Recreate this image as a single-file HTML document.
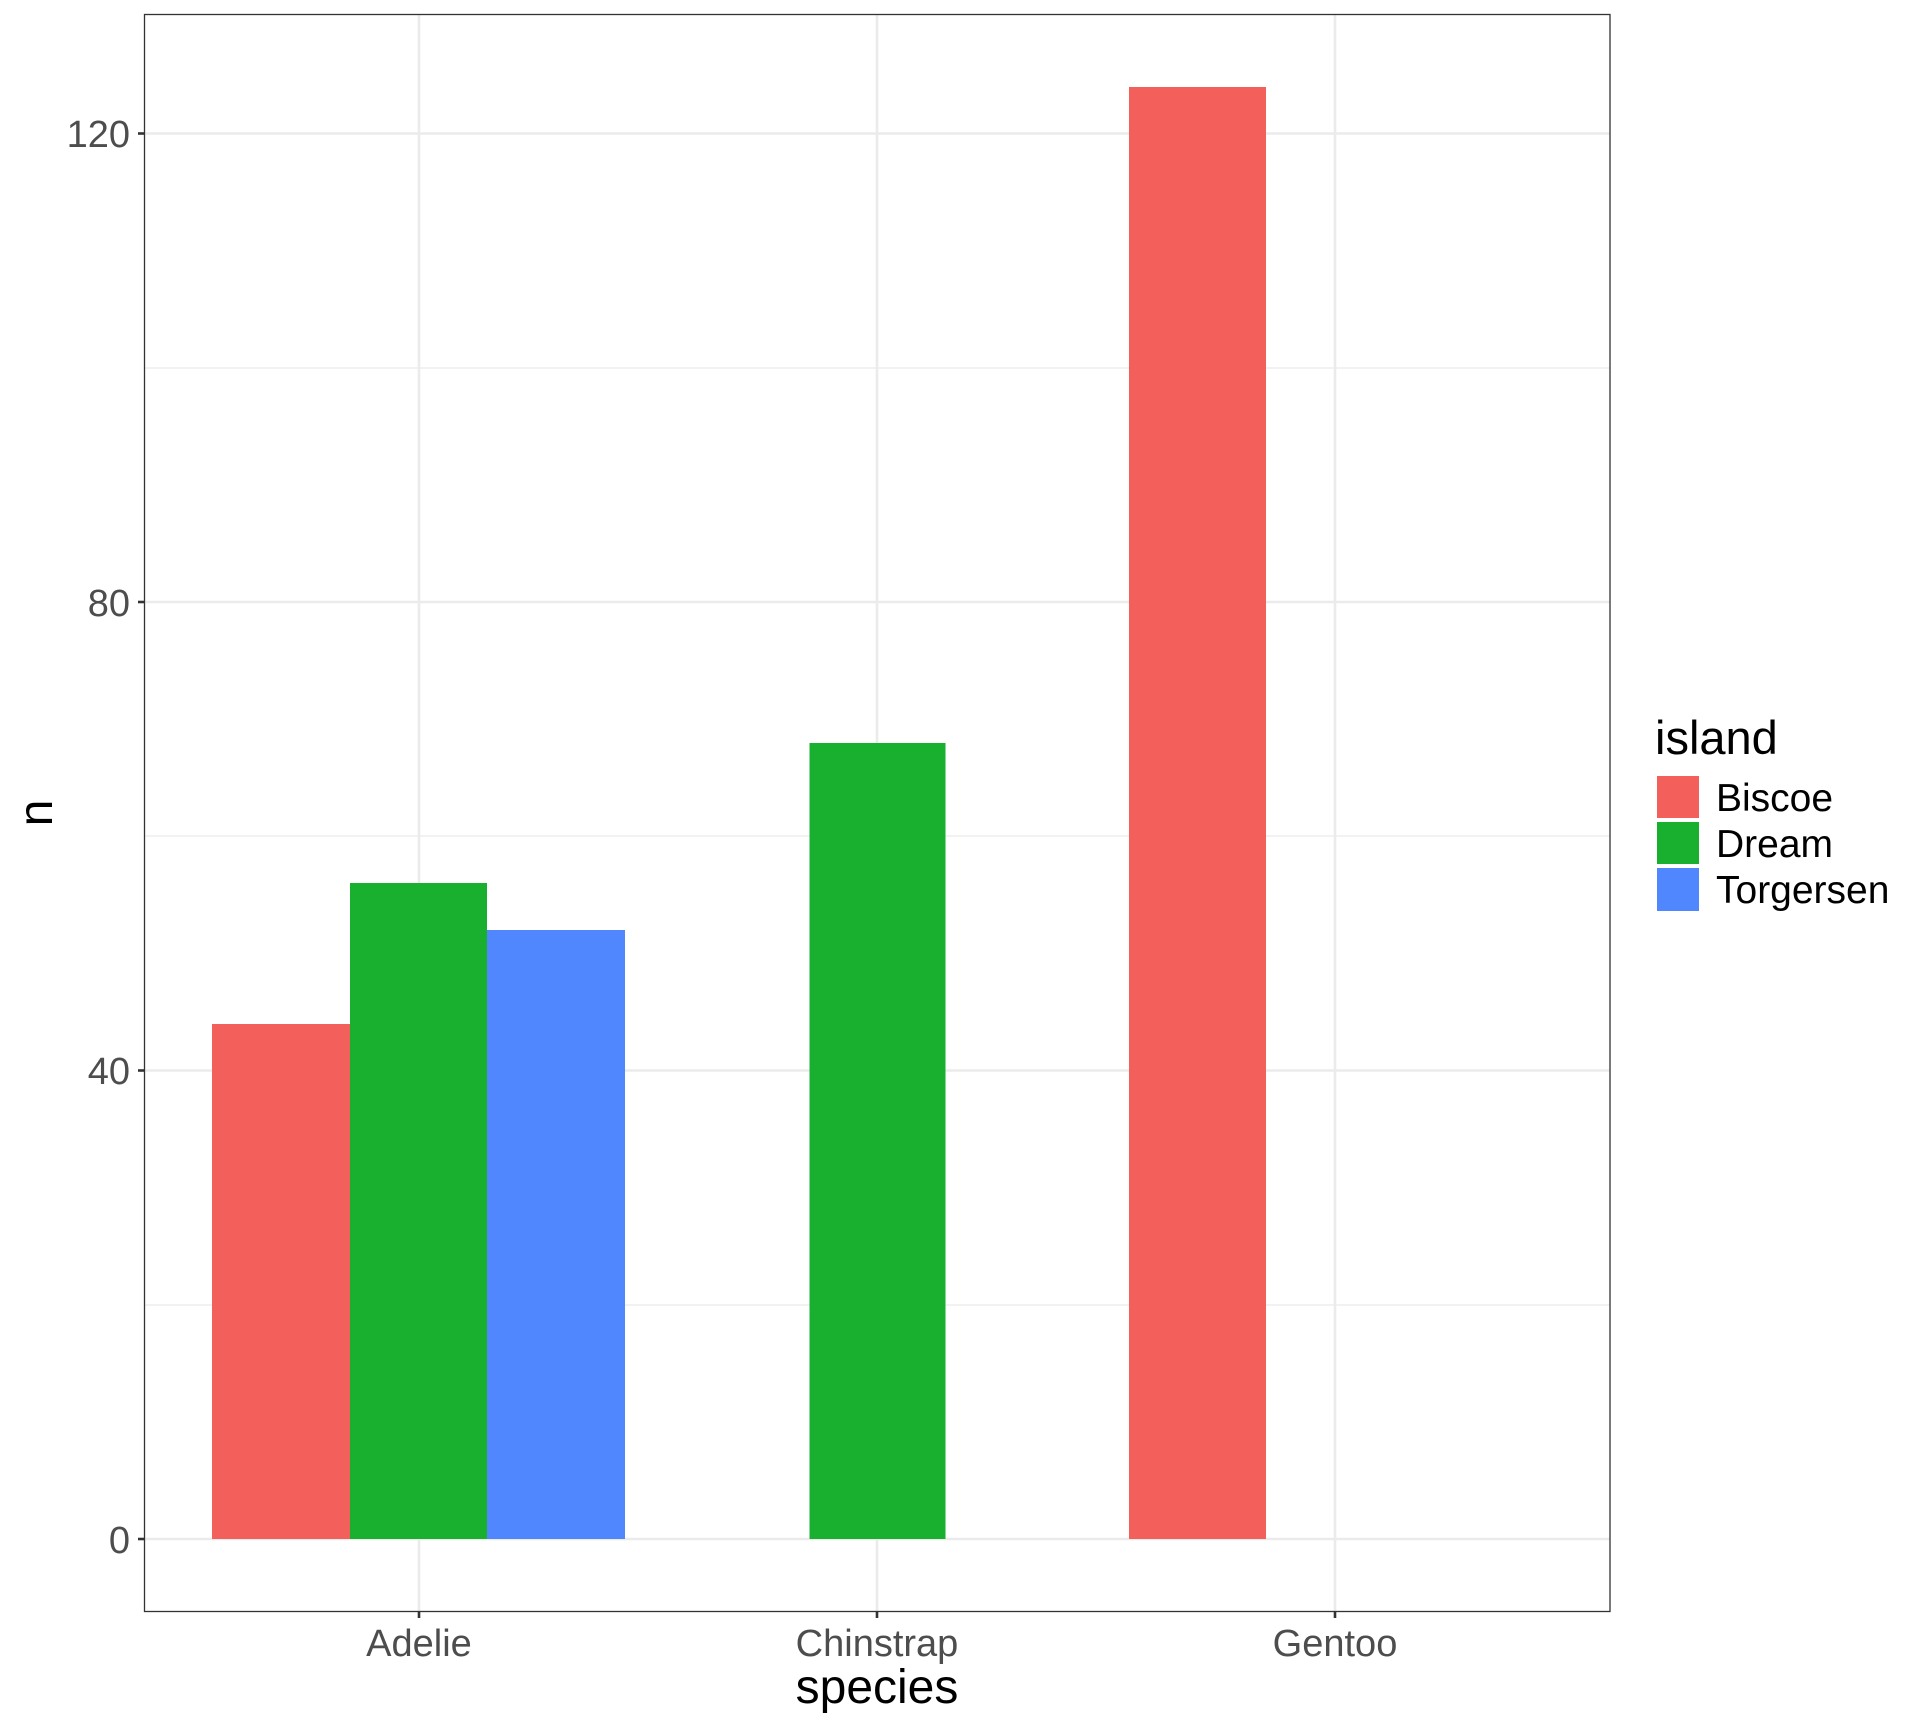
<!DOCTYPE html>
<html><head><style>html,body{margin:0;padding:0;background:#fff}</style></head>
<body>
<svg width="1920" height="1728" xmlns="http://www.w3.org/2000/svg" font-family="Liberation Sans, sans-serif">
<rect width="1920" height="1728" fill="#fff"/>
<g stroke="#ebebeb" stroke-width="1.3">
<line x1="144.5" x2="1610" y1="1305" y2="1305"/>
<line x1="144.5" x2="1610" y1="836" y2="836"/>
<line x1="144.5" x2="1610" y1="368" y2="368"/>
</g>
<g stroke="#ebebeb" stroke-width="2.6">
<line x1="144.5" x2="1610" y1="1539" y2="1539"/>
<line x1="144.5" x2="1610" y1="1070.5" y2="1070.5"/>
<line x1="144.5" x2="1610" y1="602" y2="602"/>
<line x1="144.5" x2="1610" y1="133.5" y2="133.5"/>
<line x1="419" x2="419" y1="14.5" y2="1611.5"/>
<line x1="877" x2="877" y1="14.5" y2="1611.5"/>
<line x1="1335" x2="1335" y1="14.5" y2="1611.5"/>
</g>
<rect x="212" y="1024" width="138" height="515" fill="#F35F5A"/>
<rect x="350" y="883" width="137" height="656" fill="#19AF2F"/>
<rect x="487" y="930" width="138" height="609" fill="#5087FF"/>
<rect x="809.5" y="743" width="136" height="796" fill="#19AF2F"/>
<rect x="1129" y="87" width="137" height="1452" fill="#F35F5A"/>
<rect x="144.5" y="14.5" width="1465.5" height="1597" fill="none" stroke="#333" stroke-width="1.3"/>
<g stroke="#333" stroke-width="2.6">
<line x1="138" x2="144.5" y1="1539" y2="1539"/>
<line x1="138" x2="144.5" y1="1070.5" y2="1070.5"/>
<line x1="138" x2="144.5" y1="602" y2="602"/>
<line x1="138" x2="144.5" y1="133.5" y2="133.5"/>
<line x1="419" x2="419" y1="1611.5" y2="1618"/>
<line x1="877" x2="877" y1="1611.5" y2="1618"/>
<line x1="1335" x2="1335" y1="1611.5" y2="1618"/>
</g>
<g fill="#4d4d4d" font-size="38" text-anchor="end">
<text x="130" y="1553">0</text>
<text x="130" y="1084">40</text>
<text x="130" y="616">80</text>
<text x="130" y="147">120</text>
</g>
<g fill="#4d4d4d" font-size="38" text-anchor="middle">
<text x="419" y="1656">Adelie</text>
<text x="877" y="1656">Chinstrap</text>
<text x="1335" y="1656">Gentoo</text>
</g>
<text x="877" y="1703" font-size="48" text-anchor="middle" fill="#000">species</text>
<text transform="translate(52,813) rotate(-90)" font-size="48" text-anchor="middle" fill="#000">n</text>
<text x="1655" y="754" font-size="47" fill="#000">island</text>
<rect x="1657" y="776" width="42" height="42" fill="#F35F5A"/>
<rect x="1657" y="822" width="42" height="42" fill="#19AF2F"/>
<rect x="1657" y="868" width="42" height="43" fill="#5087FF"/>
<g font-size="39" fill="#000">
<text x="1716" y="811">Biscoe</text>
<text x="1716" y="857">Dream</text>
<text x="1716" y="903">Torgersen</text>
</g>
</svg>
</body></html>
